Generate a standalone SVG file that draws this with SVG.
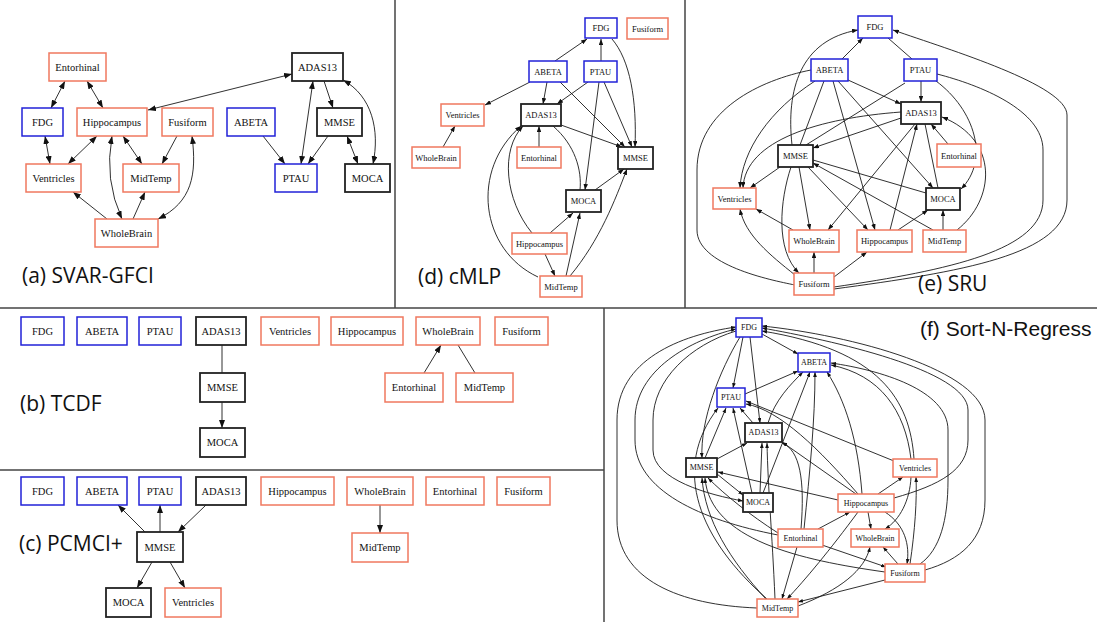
<svg xmlns="http://www.w3.org/2000/svg" width="1097" height="622" viewBox="0 0 1097 622">
<style>
.bx{fill:#fff;stroke-width:1.5}
.b{stroke:#2222d8}
.r{stroke:#f0785f}
.k{stroke:#222;stroke-width:1.8}
.t{font-family:"Liberation Serif",serif;fill:#111;text-anchor:middle;dominant-baseline:central}
.ta{font-size:10.5px}
.td{font-size:8.5px}
.tf{font-size:8px}
.e{fill:none;stroke:#1a1a1a;stroke-width:0.9}
.ea{marker-end:url(#ma)}
.eb{marker-end:url(#ma);marker-start:url(#ma)}
.ed{marker-end:url(#md)}
.ef{marker-end:url(#mf)}
.lab{font-family:"Open Sans","Noto Sans",sans-serif;font-size:21px;fill:#111}
.div{stroke:#444;stroke-width:1.5}
</style>
<defs>
<marker id="ma" viewBox="0 0 8 6" refX="8" refY="3" markerWidth="8" markerHeight="6" markerUnits="userSpaceOnUse" orient="auto-start-reverse"><path d="M0,0L8,3L0,6z" fill="#111"/></marker>
<marker id="md" viewBox="0 0 8 6" refX="8" refY="3" markerWidth="6" markerHeight="4.5" markerUnits="userSpaceOnUse" orient="auto-start-reverse"><path d="M0,0L8,3L0,6z" fill="#111"/></marker>
<marker id="mf" viewBox="0 0 8 6" refX="8" refY="3" markerWidth="5" markerHeight="3.8" markerUnits="userSpaceOnUse" orient="auto-start-reverse"><path d="M0,0L8,3L0,6z" fill="#111"/></marker>
</defs>
<rect width="1097" height="622" fill="#fff"/>
<g id="dividers">
<line class="div" x1="395" y1="0" x2="395" y2="308"/>
<line class="div" x1="685" y1="0" x2="685" y2="308"/>
<line class="div" x1="0" y1="308" x2="1097" y2="308"/>
<line class="div" x1="604" y1="308" x2="604" y2="622"/>
<line class="div" x1="0" y1="470" x2="604" y2="470"/>
</g>

<g id="connectors">
<!-- (a) -->
<path class="e eb" d="M65,81L51,108"/>
<path class="e eb" d="M87,81L103,108"/>
<path class="e eb" d="M292,74L148,110"/>
<path class="e eb" d="M45,136L50,164"/>
<path class="e eb" d="M97,136L68,164"/>
<path class="e eb" d="M123,136L142,164"/>
<path class="e eb" d="M112,136Q104,180 122,219"/>
<path class="e ea" d="M177,136L162,164"/>
<path class="e eb" d="M192,136C197,175 192,202 158,219"/>
<path class="e ea" d="M107,219L73,192"/>
<path class="e ea" d="M133,219L145,192"/>
<path class="e eb" d="M313,81L301,164"/>
<path class="e ea" d="M324,81L333,108"/>
<path class="e eb" d="M343,80C372,96 380,130 373,164"/>
<path class="e ea" d="M263,136L285,164"/>
<path class="e ea" d="M328,136L308,164"/>
<path class="e eb" d="M347,136L358,164"/>
<!-- (b) -->
<path class="e" d="M222,345L222,373"/>
<path class="e ea" d="M222,402L222,428"/>
<path class="e ea" d="M424,373L441,345"/>
<path class="e" d="M458,345L475,373"/>
<!-- (c) -->
<path class="e ea" d="M145,532L118,505"/>
<path class="e ea" d="M160,532L160,505"/>
<path class="e ea" d="M206,505L178,532"/>
<path class="e ea" d="M152,562L137,588"/>
<path class="e ea" d="M170,562L185,588"/>
<path class="e ea" d="M380,505L380,533"/>
<!-- (d) -->
<path class="e ed" d="M555,61L587,39"/>
<path class="e ed" d="M601,61L601,39"/>
<path class="e ed" d="M612,39C630,60 637,100 635,147"/>
<path class="e ed" d="M530,82L485,105"/>
<path class="e ed" d="M547,82L543,104"/>
<path class="e ed" d="M560,82L625,147"/>
<path class="e ed" d="M588,82L557,104"/>
<path class="e ed" d="M599,82L585,190"/>
<path class="e ed" d="M604,82L632,147"/>
<path class="e ed" d="M561,125L622,147"/>
<path class="e ed" d="M443,147L455,126"/>
<path class="e ed" d="M539,147L539,126"/>
<path class="e" d="M553,126C575,145 582,170 580,190"/>
<path class="e ed" d="M595,190L624,169"/>
<path class="e ed" d="M550,233L573,213"/>
<path class="e ed" d="M532,233C505,200 500,150 523,126"/>
<path class="e ed" d="M538,277C480,250 470,170 521,126"/>
<path class="e ed" d="M545,254L555,276"/>
<path class="e ed" d="M566,276L580,213"/>
<path class="e ed" d="M570,276C600,240 615,200 627,169"/>
<!-- (e) -->
<path class="e ed" d="M842,59L863,38"/>
<path class="e" d="M912,59L888,38"/>
<path class="e ed" d="M792,145C786,90 800,40 858,30"/>
<path class="e ed" d="M834,289C960,272 1067,255 1067,200L1067,115C1067,85 950,50 893,30"/>
<path class="e" d="M834,287C950,270 1043,250 1043,200L1043,150C1043,110 980,85 937,74"/>
<path class="e" d="M811,70C760,80 697,110 697,170L697,230C697,265 770,280 795,285"/>
<path class="e ed" d="M815,81C770,110 742,150 740,188"/>
<path class="e" d="M824,81L800,145"/>
<path class="e ed" d="M833,81L875,230"/>
<path class="e ed" d="M838,81L933,188"/>
<path class="e ed" d="M848,80L901,104"/>
<path class="e ed" d="M921,81L921,102"/>
<path class="e" d="M905,83L806,145"/>
<path class="e ed" d="M936,81C975,110 990,160 961,189"/>
<path class="e ed" d="M901,118L813,148"/>
<path class="e ed" d="M901,112C820,118 745,140 743,188"/>
<path class="e ed" d="M915,124L828,230"/>
<path class="e ed" d="M890,230L917,124"/>
<path class="e" d="M925,124L938,188"/>
<path class="e ed" d="M948,144L931,124"/>
<path class="e ed" d="M957,230C995,200 1000,140 942,117"/>
<path class="e ed" d="M780,167L750,188"/>
<path class="e ed" d="M799,167L810,230"/>
<path class="e ed" d="M808,167L868,230"/>
<path class="e ed" d="M791,167C780,200 775,250 799,273"/>
<path class="e" d="M926,193L813,160"/>
<path class="e ed" d="M933,230L813,163"/>
<path class="e ed" d="M793,230L756,209"/>
<path class="e ed" d="M795,275C770,255 745,235 740,209"/>
<path class="e ed" d="M814,273L814,252"/>
<path class="e ed" d="M834,277L867,252"/>
<path class="e ed" d="M898,230L928,210"/>
<path class="e ed" d="M943,230L943,210"/>
<!-- (f) -->
<path class="e ef" d="M762,334L798,354"/>
<path class="e ef" d="M743,337L733,388"/>
<path class="e ef" d="M750,337L760,423"/>
<path class="e ef" d="M740,337C720,370 700,420 702,458"/>
<path class="e ef" d="M757,608C680,605 617,580 617,520L617,420C617,360 680,335 736,327"/>
<path class="e ef" d="M778,535C700,520 635,490 635,440L635,420C635,370 690,340 736,329"/>
<path class="e ef" d="M736,331C690,345 653,380 653,420L653,450C653,480 710,495 743,501"/>
<path class="e ef" d="M925,570C960,560 985,540 985,500L985,420C985,370 850,335 762,326"/>
<path class="e ef" d="M894,498C940,485 968,470 968,440L968,410C968,370 830,340 762,328"/>
<path class="e ef" d="M914,459C910,400 880,350 762,331"/>
<path class="e ef" d="M911,459C905,410 880,375 831,365"/>
<path class="e ef" d="M920,564C940,550 948,520 948,480L948,430C948,390 880,370 831,363"/>
<path class="e ef" d="M862,494C858,440 845,400 827,372"/>
<path class="e ef" d="M745,394L798,371"/>
<path class="e ef" d="M768,423C775,400 790,385 803,372"/>
<path class="e ef" d="M763,493L810,372"/>
<path class="e ef" d="M804,529C810,470 815,420 815,372"/>
<path class="e ef" d="M705,458L726,408"/>
<path class="e ef" d="M752,493L733,408"/>
<path class="e ef" d="M753,423L740,408"/>
<path class="e ef" d="M767,599C700,540 670,470 718,408"/>
<path class="e ef" d="M894,461L746,401"/>
<path class="e ef" d="M858,494C820,450 780,410 746,404"/>
<path class="e ef" d="M717,459L747,443"/>
<path class="e ef" d="M760,493L762,443"/>
<path class="e ef" d="M775,599C772,530 768,490 767,443"/>
<path class="e ef" d="M801,529C805,480 800,450 782,443"/>
<path class="e ef" d="M856,494L782,442"/>
<path class="e ef" d="M838,500L718,472"/>
<path class="e ef" d="M778,533C750,515 725,495 708,478"/>
<path class="e ef" d="M885,572C800,560 710,540 705,478"/>
<path class="e ef" d="M766,599C730,560 705,520 702,478"/>
<path class="e ef" d="M717,474L743,495"/>
<path class="e ef" d="M878,494L903,477"/>
<path class="e ef" d="M868,512L871,529"/>
<path class="e ef" d="M885,512C905,525 910,545 907,564"/>
<path class="e ef" d="M858,512C830,550 805,580 787,599"/>
<path class="e ef" d="M818,529L850,512"/>
<path class="e ef" d="M911,477C910,500 900,520 885,529"/>
<path class="e ef" d="M910,564C915,530 917,500 916,477"/>
<path class="e ef" d="M822,545L886,567"/>
<path class="e ef" d="M797,547L782,599"/>
<path class="e ef" d="M898,564L883,547"/>
<path class="e ef" d="M885,580L798,602"/>
<path class="e ef" d="M798,606C840,590 865,570 870,547"/>
</g>

<!-- (a) nodes -->
<g id="a-Entorhinal"><rect class="bx r" x="49" y="53" width="57" height="28"/><text class="t ta" x="77.5" y="67">Entorhinal</text></g>
<g id="a-ADAS13"><rect class="bx k" x="292" y="53" width="51" height="28"/><text class="t ta" x="317.5" y="67">ADAS13</text></g>
<g id="a-FDG"><rect class="bx b" x="22" y="108" width="41" height="28"/><text class="t ta" x="42.5" y="122">FDG</text></g>
<g id="a-Hippocampus"><rect class="bx r" x="77" y="108" width="70" height="28"/><text class="t ta" x="112" y="122">Hippocampus</text></g>
<g id="a-Fusiform"><rect class="bx r" x="162" y="108" width="51" height="28"/><text class="t ta" x="187.5" y="122">Fusiform</text></g>
<g id="a-ABETA"><rect class="bx b" x="227" y="108" width="48" height="28"/><text class="t ta" x="251" y="122">ABETA</text></g>
<g id="a-MMSE"><rect class="bx k" x="317" y="108" width="45" height="28"/><text class="t ta" x="339.5" y="122">MMSE</text></g>
<g id="a-Ventricles"><rect class="bx r" x="26" y="164" width="55" height="28"/><text class="t ta" x="53.5" y="178">Ventricles</text></g>
<g id="a-MidTemp"><rect class="bx r" x="123" y="164" width="56" height="28"/><text class="t ta" x="151" y="178">MidTemp</text></g>
<g id="a-PTAU"><rect class="bx b" x="275" y="164" width="42" height="28"/><text class="t ta" x="296" y="178">PTAU</text></g>
<g id="a-MOCA"><rect class="bx k" x="345" y="164" width="45" height="28"/><text class="t ta" x="367.5" y="178">MOCA</text></g>
<g id="a-WholeBrain"><rect class="bx r" x="95" y="219" width="63" height="28"/><text class="t ta" x="126.5" y="233">WholeBrain</text></g>
<text class="lab" x="22" y="283">(a) SVAR-GFCI</text>

<!-- (b) nodes -->
<g id="b-FDG"><rect class="bx b" x="21" y="317" width="43" height="28"/><text class="t ta" x="42.5" y="331">FDG</text></g>
<g id="b-ABETA"><rect class="bx b" x="77" y="317" width="50" height="28"/><text class="t ta" x="102" y="331">ABETA</text></g>
<g id="b-PTAU"><rect class="bx b" x="139" y="317" width="42" height="28"/><text class="t ta" x="160" y="331">PTAU</text></g>
<g id="b-ADAS13"><rect class="bx k" x="196" y="317" width="50" height="28"/><text class="t ta" x="221" y="331">ADAS13</text></g>
<g id="b-Ventricles"><rect class="bx r" x="261" y="317" width="58" height="28"/><text class="t ta" x="290" y="331">Ventricles</text></g>
<g id="b-Hippocampus"><rect class="bx r" x="331" y="317" width="72" height="28"/><text class="t ta" x="367" y="331">Hippocampus</text></g>
<g id="b-WholeBrain"><rect class="bx r" x="416" y="317" width="64" height="28"/><text class="t ta" x="448" y="331">WholeBrain</text></g>
<g id="b-Fusiform"><rect class="bx r" x="495" y="317" width="53" height="28"/><text class="t ta" x="521.5" y="331">Fusiform</text></g>
<g id="b-MMSE"><rect class="bx k" x="200" y="373" width="45" height="29"/><text class="t ta" x="222.5" y="387.5">MMSE</text></g>
<g id="b-MOCA"><rect class="bx k" x="200" y="428" width="45" height="29"/><text class="t ta" x="222.5" y="442.5">MOCA</text></g>
<g id="b-Entorhinal"><rect class="bx r" x="385" y="373" width="58" height="29"/><text class="t ta" x="414" y="387.5">Entorhinal</text></g>
<g id="b-MidTemp"><rect class="bx r" x="456" y="373" width="57" height="29"/><text class="t ta" x="484.5" y="387.5">MidTemp</text></g>
<text class="lab" x="20" y="411">(b) TCDF</text>

<!-- (c) nodes -->
<g id="c-FDG"><rect class="bx b" x="21" y="477" width="43" height="28"/><text class="t ta" x="42.5" y="491">FDG</text></g>
<g id="c-ABETA"><rect class="bx b" x="77" y="477" width="50" height="28"/><text class="t ta" x="102" y="491">ABETA</text></g>
<g id="c-PTAU"><rect class="bx b" x="139" y="477" width="42" height="28"/><text class="t ta" x="160" y="491">PTAU</text></g>
<g id="c-ADAS13"><rect class="bx k" x="196" y="477" width="50" height="28"/><text class="t ta" x="221" y="491">ADAS13</text></g>
<g id="c-Hippocampus"><rect class="bx r" x="261" y="477" width="73" height="28"/><text class="t ta" x="297.5" y="491">Hippocampus</text></g>
<g id="c-WholeBrain"><rect class="bx r" x="347" y="477" width="66" height="28"/><text class="t ta" x="380" y="491">WholeBrain</text></g>
<g id="c-Entorhinal"><rect class="bx r" x="426" y="477" width="58" height="28"/><text class="t ta" x="455" y="491">Entorhinal</text></g>
<g id="c-Fusiform"><rect class="bx r" x="497" y="477" width="53" height="28"/><text class="t ta" x="523.5" y="491">Fusiform</text></g>
<g id="c-MMSE"><rect class="bx k" x="137" y="532" width="46" height="30"/><text class="t ta" x="160" y="547">MMSE</text></g>
<g id="c-MidTemp"><rect class="bx r" x="352" y="533" width="56" height="29"/><text class="t ta" x="380" y="547.5">MidTemp</text></g>
<g id="c-MOCA"><rect class="bx k" x="106" y="588" width="45" height="29"/><text class="t ta" x="128.5" y="602.5">MOCA</text></g>
<g id="c-Ventricles"><rect class="bx r" x="165" y="588" width="56" height="29"/><text class="t ta" x="193" y="602.5">Ventricles</text></g>
<text class="lab" x="19" y="551">(c) PCMCI+</text>

<!-- (d) nodes -->
<g id="d-FDG"><rect class="bx b" x="585" y="18" width="32" height="20"/><text class="t td" x="601" y="28">FDG</text></g>
<g id="d-Fusiform"><rect class="bx r" x="627" y="18" width="41" height="21"/><text class="t td" x="647.5" y="28.5">Fusiform</text></g>
<g id="d-ABETA"><rect class="bx b" x="529" y="61" width="38" height="21"/><text class="t td" x="548" y="71.5">ABETA</text></g>
<g id="d-PTAU"><rect class="bx b" x="584" y="61" width="33" height="21"/><text class="t td" x="600.5" y="71.5">PTAU</text></g>
<g id="d-Ventricles"><rect class="bx r" x="441" y="104" width="43" height="22"/><text class="t td" x="462.5" y="115">Ventricles</text></g>
<g id="d-ADAS13"><rect class="bx k" x="521" y="104" width="40" height="22"/><text class="t td" x="541" y="115">ADAS13</text></g>
<g id="d-WholeBrain"><rect class="bx r" x="412" y="147" width="48" height="21"/><text class="t td" x="436" y="157.5">WholeBrain</text></g>
<g id="d-Entorhinal"><rect class="bx r" x="517" y="147" width="44" height="21"/><text class="t td" x="539" y="157.5">Entorhinal</text></g>
<g id="d-MMSE"><rect class="bx k" x="618" y="147" width="35" height="22"/><text class="t td" x="635.5" y="158">MMSE</text></g>
<g id="d-MOCA"><rect class="bx k" x="566" y="190" width="35" height="22"/><text class="t td" x="583.5" y="201">MOCA</text></g>
<g id="d-Hippocampus"><rect class="bx r" x="512" y="233" width="55" height="21"/><text class="t td" x="539.5" y="243.5">Hippocampus</text></g>
<g id="d-MidTemp"><rect class="bx r" x="540" y="276" width="42" height="21"/><text class="t td" x="561" y="286.5">MidTemp</text></g>
<text class="lab" x="418" y="284">(d) cMLP</text>

<!-- (e) nodes -->
<g id="e-FDG"><rect class="bx b" x="858" y="16" width="34" height="22"/><text class="t td" x="875" y="27">FDG</text></g>
<g id="e-ABETA"><rect class="bx b" x="811" y="59" width="37" height="22"/><text class="t td" x="829.5" y="70">ABETA</text></g>
<g id="e-PTAU"><rect class="bx b" x="904" y="59" width="33" height="22"/><text class="t td" x="920.5" y="70">PTAU</text></g>
<g id="e-ADAS13"><rect class="bx k" x="901" y="102" width="40" height="22"/><text class="t td" x="921" y="113">ADAS13</text></g>
<g id="e-Entorhinal"><rect class="bx r" x="937" y="144" width="44" height="23"/><text class="t td" x="959" y="155.5">Entorhinal</text></g>
<g id="e-MMSE"><rect class="bx k" x="778" y="145" width="35" height="22"/><text class="t td" x="795.5" y="156">MMSE</text></g>
<g id="e-Ventricles"><rect class="bx r" x="713" y="188" width="43" height="21"/><text class="t td" x="734.5" y="198.5">Ventricles</text></g>
<g id="e-MOCA"><rect class="bx k" x="926" y="188" width="34" height="22"/><text class="t td" x="943" y="199">MOCA</text></g>
<g id="e-WholeBrain"><rect class="bx r" x="789" y="230" width="50" height="22"/><text class="t td" x="814" y="241">WholeBrain</text></g>
<g id="e-Hippocampus"><rect class="bx r" x="857" y="230" width="55" height="22"/><text class="t td" x="884.5" y="241">Hippocampus</text></g>
<g id="e-MidTemp"><rect class="bx r" x="923" y="230" width="43" height="22"/><text class="t td" x="944.5" y="241">MidTemp</text></g>
<g id="e-Fusiform"><rect class="bx r" x="794" y="273" width="40" height="22"/><text class="t td" x="814" y="284">Fusiform</text></g>
<text class="lab" x="918" y="291">(e) SRU</text>

<!-- (f) nodes -->
<g id="f-FDG"><rect class="bx b" x="736" y="318" width="26" height="19"/><text class="t tf" x="749" y="327.5">FDG</text></g>
<g id="f-ABETA"><rect class="bx b" x="798" y="353" width="32" height="19"/><text class="t tf" x="814" y="362.5">ABETA</text></g>
<g id="f-PTAU"><rect class="bx b" x="717" y="388" width="28" height="19"/><text class="t tf" x="731" y="397.5">PTAU</text></g>
<g id="f-ADAS13"><rect class="bx k" x="745" y="423" width="37" height="19"/><text class="t tf" x="763.5" y="432.5">ADAS13</text></g>
<g id="f-MMSE"><rect class="bx k" x="686" y="458" width="31" height="19"/><text class="t tf" x="701.5" y="467.5">MMSE</text></g>
<g id="f-Ventricles"><rect class="bx r" x="893" y="459" width="44" height="18"/><text class="t tf" x="915" y="468">Ventricles</text></g>
<g id="f-MOCA"><rect class="bx k" x="743" y="493" width="30" height="19"/><text class="t tf" x="758" y="502.5">MOCA</text></g>
<g id="f-Hippocampus"><rect class="bx r" x="838" y="494" width="56" height="18"/><text class="t tf" x="866" y="503">Hippocampus</text></g>
<g id="f-Entorhinal"><rect class="bx r" x="778" y="529" width="45" height="18"/><text class="t tf" x="800.5" y="538">Entorhinal</text></g>
<g id="f-WholeBrain"><rect class="bx r" x="851" y="529" width="48" height="18"/><text class="t tf" x="875" y="538">WholeBrain</text></g>
<g id="f-Fusiform"><rect class="bx r" x="885" y="564" width="40" height="18"/><text class="t tf" x="905" y="573">Fusiform</text></g>
<g id="f-MidTemp"><rect class="bx r" x="757" y="599" width="41" height="18"/><text class="t tf" x="777.5" y="608">MidTemp</text></g>
<text class="lab" x="920" y="336" style="font-family:'Liberation Sans',Arial,sans-serif">(f) Sort-N-Regress</text>
</svg>
